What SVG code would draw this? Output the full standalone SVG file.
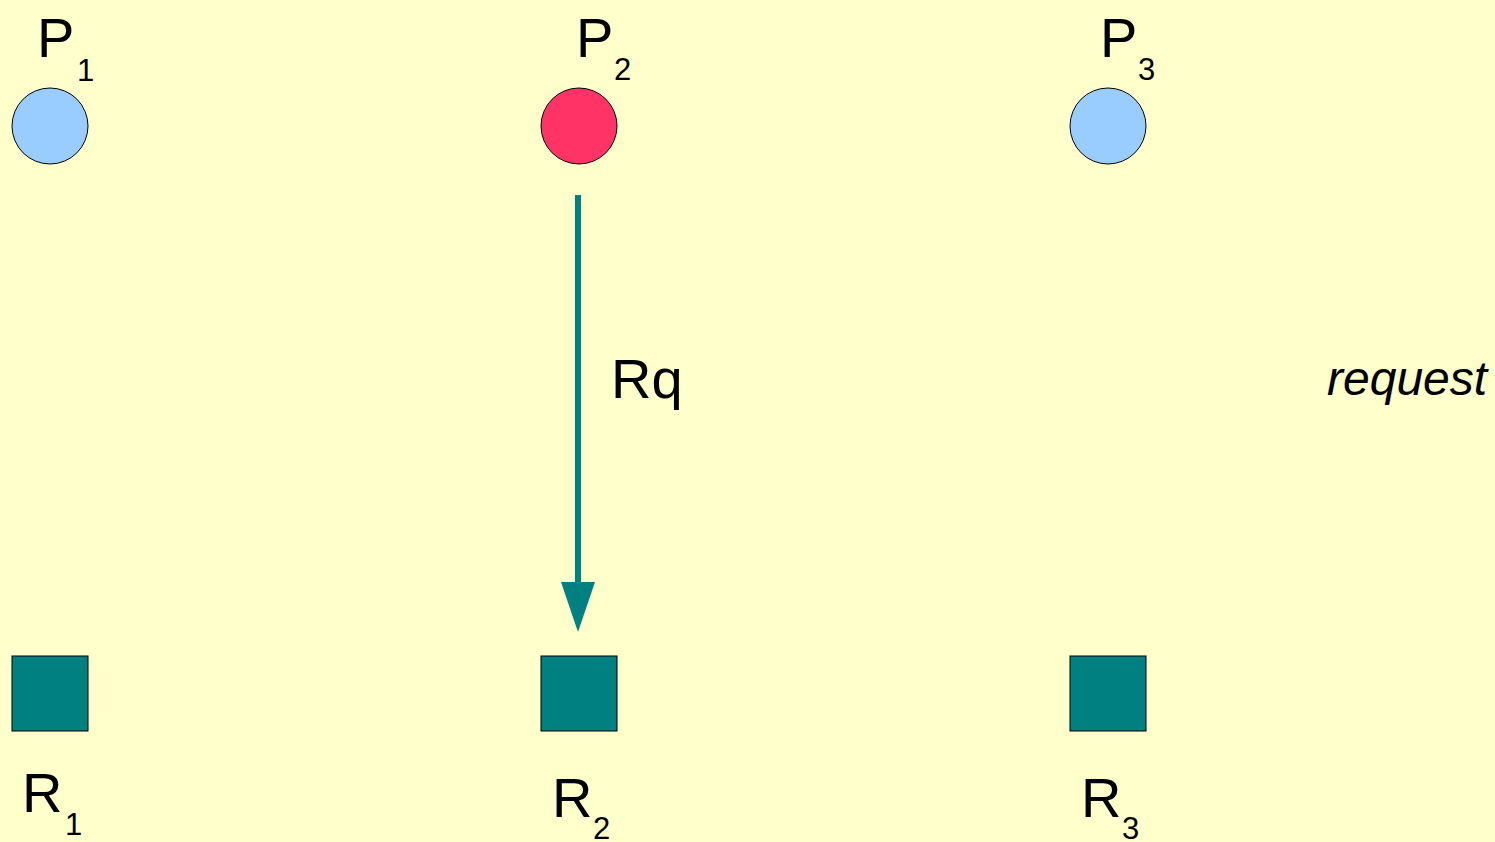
<svg xmlns="http://www.w3.org/2000/svg" width="1495" height="842" viewBox="0 0 1495 842">
<style>
text{font-family:"Liberation Sans",Arial,sans-serif;fill:#000}
.big{font-size:56px}
.sub{font-size:31px}
.proc{stroke:#000;stroke-width:1}
.res{fill:#008080;stroke:#000;stroke-width:1}
</style>
<rect width="1495" height="842" fill="#FFFFCC"/>
<g id="P1"><circle class="proc" cx="50" cy="126" r="38" fill="#99CCFF"/><text class="big" x="37" y="57">P</text><text class="sub" x="77" y="81">1</text></g>
<g id="P2"><circle class="proc" cx="579" cy="126" r="38" fill="#FF3366"/><text class="big" x="576" y="57">P</text><text class="sub" x="614" y="80">2</text></g>
<g id="P3"><circle class="proc" cx="1108" cy="126" r="38" fill="#99CCFF"/><text class="big" x="1100" y="57">P</text><text class="sub" x="1138" y="80">3</text></g>
<g id="R1"><rect class="res" x="12" y="656" width="76" height="75"/><text class="big" x="22" y="812">R</text><text class="sub" x="65" y="835">1</text></g>
<g id="R2"><rect class="res" x="541" y="656" width="76" height="75"/><text class="big" x="552" y="817">R</text><text class="sub" x="593" y="839">2</text></g>
<g id="R3"><rect class="res" x="1070" y="656" width="76" height="75"/><text class="big" x="1081" y="817">R</text><text class="sub" x="1122" y="839">3</text></g>
<g id="connectors">
<path d="M578,195 L578,584" stroke="#008080" stroke-width="6" fill="none"/>
<path d="M561,582 L595,582 L578,632 Z" fill="#008080"/>
<text class="big" x="611" y="398">Rq</text>
</g>
<text x="1327" y="395" style="font-size:48px;font-style:italic">request</text>
</svg>
